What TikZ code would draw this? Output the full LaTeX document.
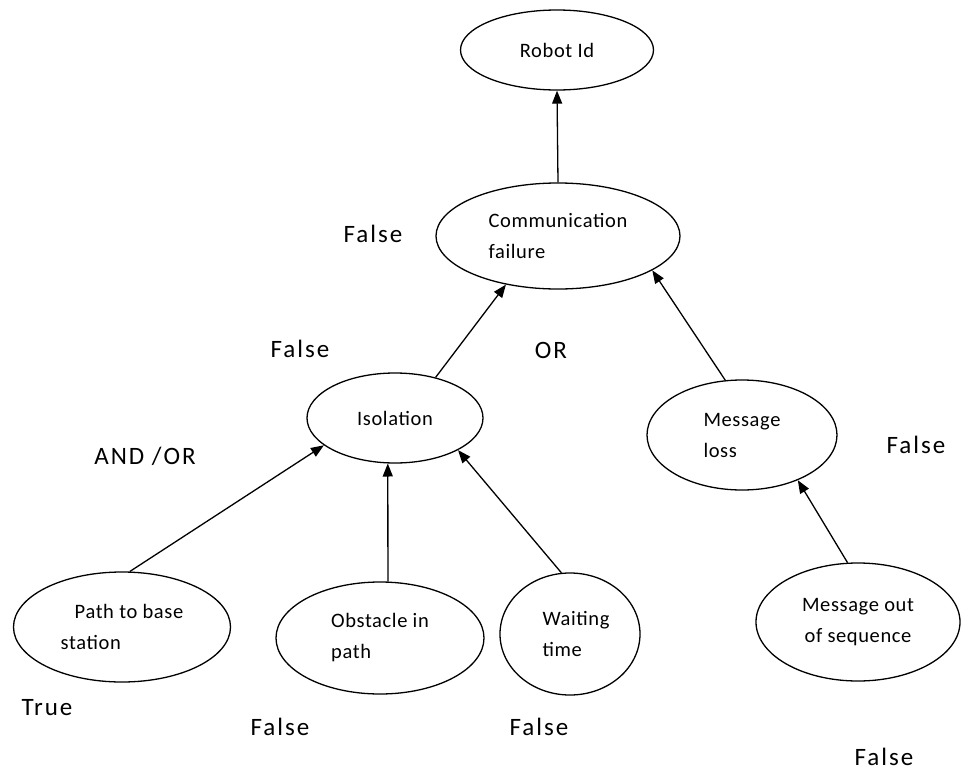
\documentclass[tikz,border=0pt]{standalone}
\usepackage{fontspec}
\setmainfont{Carlito}
\newfontfamily\ovalfam{Carlito}[LetterSpace=3]
\newfontfamily\tagfam{Carlito}[LetterSpace=8]
\newcommand{\ovalfont}{\ovalfam\fontsize{20.5}{31}\selectfont}
\newcommand{\tagfont}{\tagfam\fontsize{25}{30}\selectfont}
\usetikzlibrary{shapes.geometric}
\usetikzlibrary{arrows.meta}

\begin{document}
\begin{tikzpicture}[x=1pt, y=-1pt,
    oval/.style={ellipse, draw=black, line width=1.3pt, inner sep=0pt, align=left, font=\ovalfont},
    link/.style={-{Triangle[length=13pt, width=10pt]}, line width=1.3pt},
    tag/.style={font=\tagfont, inner sep=0pt}]
    \useasboundingbox (0,0) rectangle (961,771);

    % top of the tree
    \node[oval, minimum width=193pt, minimum height=80pt] (robot) at (557,50) {Robot Id};
    \node[oval, minimum width=244pt, minimum height=106pt] (comm) at (558,236) {Communication\\failure};

    % middle level
    \node[oval, minimum width=176pt, minimum height=90pt] (iso) at (395,418) {Isolation};
    \node[oval, minimum width=190pt, minimum height=110pt] (loss) at (742,435) {Message\\loss};

    % leaves
    \node[oval, minimum width=217pt, minimum height=110pt] (path) at (122,627) {\hspace*{14pt}Path to base\\station};
    \node[oval, minimum width=208pt, minimum height=112pt] (obs) at (380,638) {Obstacle in\\path};
    \node[oval, minimum width=140pt, minimum height=122pt] (wait) at (570,634) {\hspace*{12pt}Waiting\\\hspace*{12pt}time};
    \node[oval, align=center, minimum width=204pt, minimum height=118pt] (seq) at (858,622) {Message out\\of sequence};

    % connectors
    \draw[link] (comm.north) -- (robot.south);
    \draw[link] (iso.45) -- (comm.223);
    \draw[link] (loss.107) -- (comm.340);
    \draw[link] (path.82) -- (iso.201);
    \draw[link] (obs.82) -- (iso.261);
    \draw[link] (wait.98) -- (iso.333);
    \draw[link] (seq.100) -- (loss.321);

    % values and gates
    \node[tag] (commval) at (373,234) {False};
    \node[tag] (isoval) at (300,349) {False};
    \node[tag] (orgate) at (551,350) {OR};
    \node[tag] (andorgate) at (145,456) {AND /OR};
    \node[tag] (lossval) at (916,445) {False};
    \node[tag] (pathval) at (47,708) {True};
    \node[tag] (obsval) at (280,727) {False};
    \node[tag] (waitval) at (539,727) {False};
    \node[tag] (seqval) at (884,757) {False};
\end{tikzpicture}
\end{document}
